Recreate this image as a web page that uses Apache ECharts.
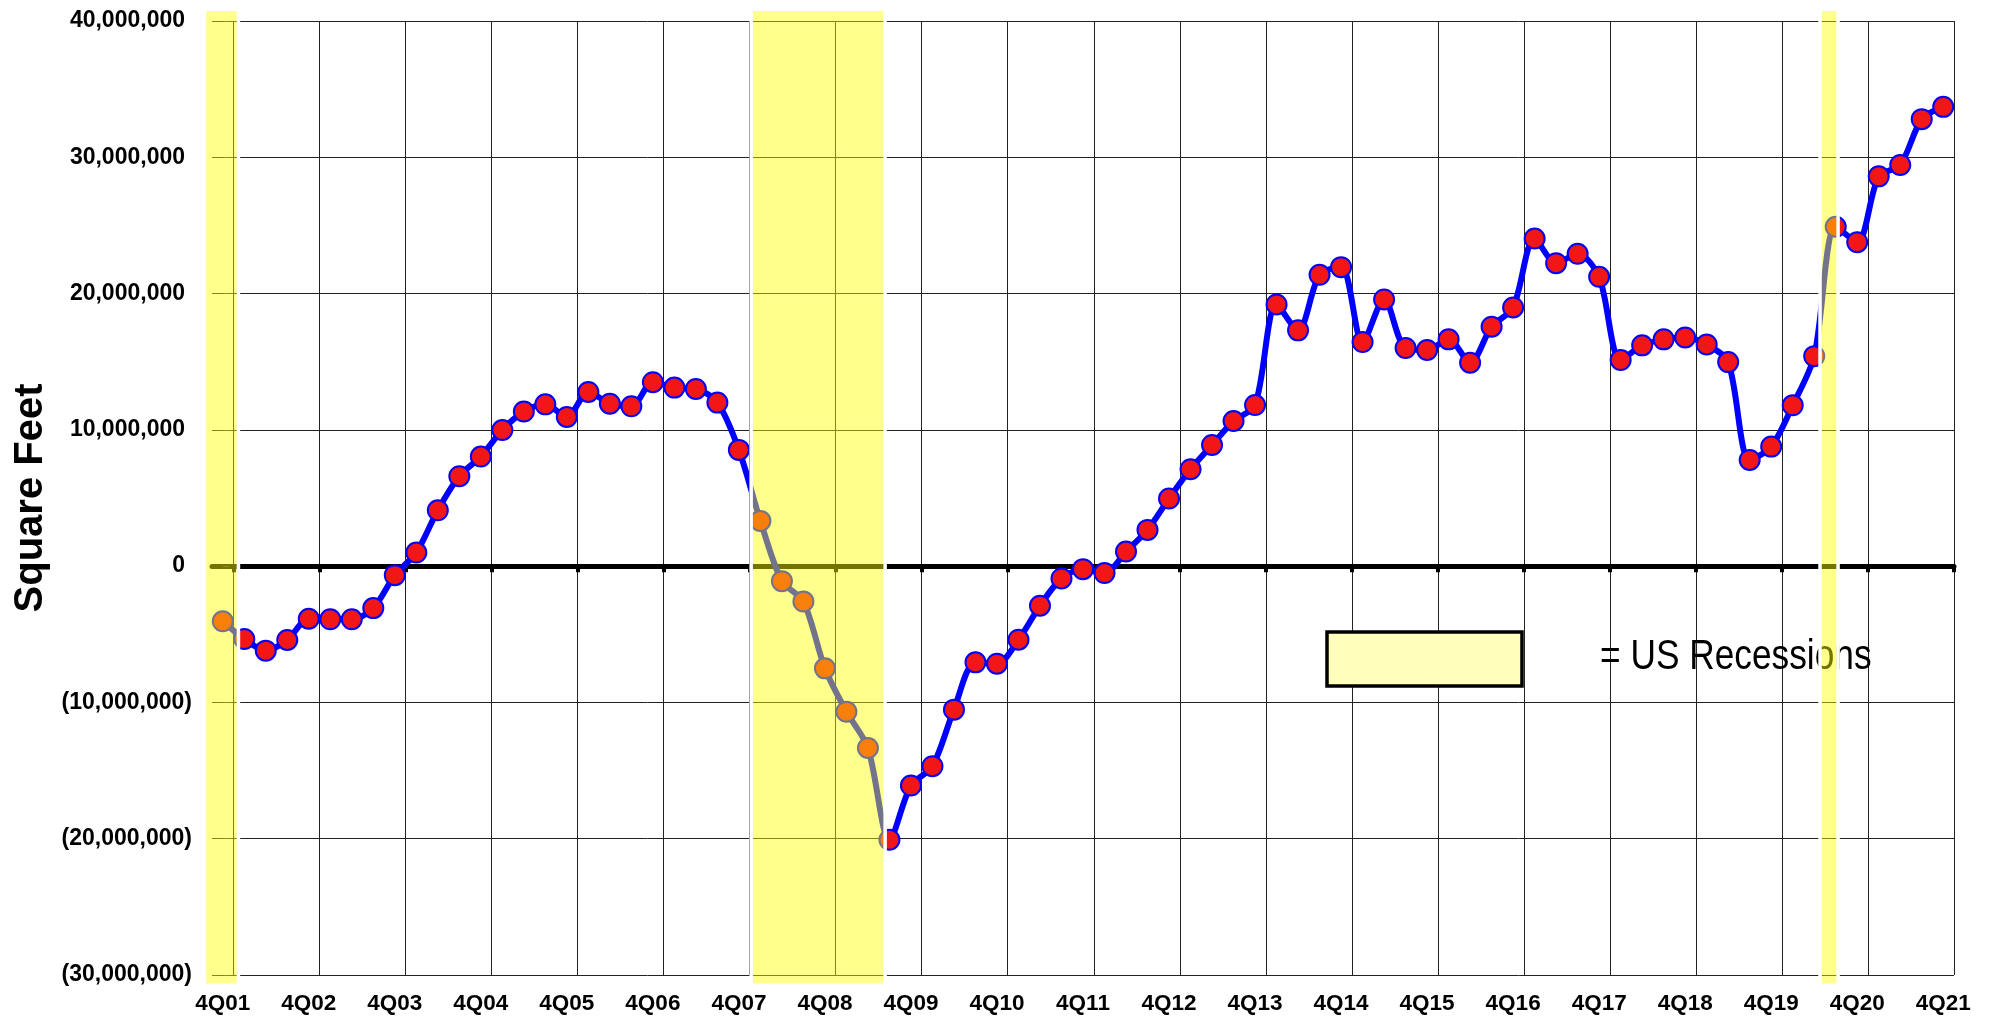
<!DOCTYPE html>
<html>
<head>
<meta charset="utf-8">
<title>Net Absorption - Square Feet</title>
<script src="https://cdn.jsdelivr.net/npm/echarts@6/dist/echarts.min.js"></script>
<style>
  html, body { margin: 0; padding: 0; background: #fff; }
  #chart { width: 1991px; height: 1016px; }
</style>
</head>
<body>
<div id="chart"></div>
<script>
// quarters 4Q01 .. 4Q21
var quarters = [];
for (var yr = 1; yr <= 21; yr++) {
    var yy = (yr < 10 ? '0' : '') + yr;
    if (yr === 1) { quarters.push('4Q01'); continue; }
    quarters.push('1Q' + yy, '2Q' + yy, '3Q' + yy, '4Q' + yy);
}

// quarterly net absorption, square feet
var netAbsorption = [
    -4050000, -5350000, -6200000, -5420000, -3860000, -3900000, -3900000, -3080000,
    -660000, 1000000, 4100000, 6600000, 8040000, 9990000, 11340000, 11870000,
    10950000, 12780000, 11920000, 11730000, 13500000, 13100000, 13000000, 12000000,
    8530000, 3320000, -1100000, -2600000, -7500000, -10680000, -13340000, -20080000,
    -16100000, -14680000, -10530000, -7060000, -7160000, -5400000, -2900000, -900000,
    -220000, -510000, 1070000, 2660000, 4960000, 7110000, 8890000, 10650000,
    11820000, 19200000, 17300000, 21380000, 21940000, 16440000, 19570000, 16000000,
    15860000, 16640000, 14930000, 17570000, 18980000, 24040000, 22230000, 22920000,
    21230000, 15120000, 16200000, 16640000, 16780000, 16270000, 14970000, 7790000,
    8770000, 11800000, 15410000, 24900000, 23770000, 28600000, 29440000, 32800000,
    33700000
];

// US recessions, as spans on the quarter index (0 = 4Q01)
var recessionStart = [-0.85, 24.57, 74.27];
var recessionEnd = [0.73, 30.8, 75.11];

var yTicks = [-30000000, -20000000, -10000000, 0, 10000000, 20000000, 30000000, 40000000];

var FONT = '"Liberation Sans", Arial, sans-serif';

function fmtY(v) {
    var s = Math.abs(v).toLocaleString('en-US');
    return v < 0 ? '{n|(' + s + ')}' : '{p|' + s + '}';
}
function everyYear(idx) { return idx % 4 === 0; }
function yearBoundary(idx) { return idx % 4 === 1; }

var chart = echarts.init(document.getElementById('chart'));

var option = {
    animation: false,
    backgroundColor: '#fff',
    grid: { left: 212, right: 37, top: 21, bottom: 41 },
    xAxis: [
        {
            type: 'category',
            data: quarters,
            position: 'bottom',
            boundaryGap: true,
            axisLine: { show: false, onZero: false },
            axisTick: { show: false },
            axisLabel: {
                interval: everyYear,
                margin: 17,
                fontSize: 22.5,
                fontWeight: 'bold',
                fontFamily: FONT,
                color: '#000'
            },
            splitLine: {
                show: true,
                interval: yearBoundary,
                lineStyle: { color: '#222', width: 1 }
            }
        },
        {
            // heavy zero line with its tick marks
            type: 'category',
            data: quarters,
            position: 'bottom',
            boundaryGap: true,
            axisLine: { show: true, onZero: true, lineStyle: { color: '#000', width: 5 } },
            axisTick: { show: true, interval: yearBoundary, length: 6, lineStyle: { color: '#000', width: 4 } },
            axisLabel: { show: false },
            splitLine: { show: false }
        },
        {
            // hidden linear scale on the quarter index, for the recession bands
            type: 'value',
            position: 'top',
            min: -0.5,
            max: quarters.length - 0.5,
            show: false
        }
    ],
    yAxis: [
        {
            type: 'value',
            min: yTicks[0],
            max: yTicks[yTicks.length - 1],
            interval: 10000000,
            name: 'Square Feet',
            nameLocation: 'middle',
            nameGap: 157,
            nameTextStyle: { fontSize: 40, fontWeight: 'bold', fontFamily: FONT, color: '#000' },
            axisLine: { show: false, onZero: false },
            axisTick: { show: false },
            axisLabel: {
                formatter: fmtY,
                margin: 20,
                fontSize: 23,
                fontWeight: 'bold',
                fontFamily: FONT,
                color: '#000',
                rich: {
                    p: { fontSize: 23, fontWeight: 'bold', fontFamily: FONT, color: '#000', padding: [0, 7, 0, 0] },
                    n: { fontSize: 23, fontWeight: 'bold', fontFamily: FONT, color: '#000' }
                }
            },
            splitLine: { show: true, lineStyle: { color: '#222', width: 1 } }
        },
        {
            type: 'value',
            position: 'right',
            min: yTicks[0],
            max: yTicks[yTicks.length - 1],
            interval: 10000000,
            axisLine: { show: false },
            axisTick: { show: true, length: 7, lineStyle: { color: '#333' } },
            axisLabel: { show: false },
            splitLine: { show: false }
        }
    ],
    graphic: {
        elements: [
            {
                type: 'rect',
                z: 10,
                shape: { x: 1327, y: 632, width: 195, height: 54 },
                style: { fill: '#FFFFBB', stroke: '#000', lineWidth: 3.5 }
            },
            {
                type: 'text',
                z: 10,
                x: 1600,
                y: 657,
                scaleX: 0.84,
                style: {
                    text: '= US Recessions',
                    fontSize: 42,
                    fontFamily: FONT,
                    fill: '#000',
                    verticalAlign: 'middle'
                }
            }
        ]
    },
    series: [
        {
            name: 'Net Absorption',
            type: 'line',
            xAxisIndex: 0,
            yAxisIndex: 0,
            data: netAbsorption,
            smooth: 0.3,
            showAllSymbol: true,
            symbol: 'circle',
            symbolSize: 20,
            lineStyle: { color: '#0000FF', width: 6 },
            itemStyle: { color: '#F21616', borderColor: '#0000FF', borderWidth: 2 },
            z: 3
        },
        {
            name: 'US Recessions',
            type: 'custom',
            xAxisIndex: 2,
            yAxisIndex: 0,
            clip: false,
            z: 20,
            silent: true,
            data: recessionStart.map(function (s, i) { return [s, recessionEnd[i]]; }),
            renderItem: function (params, api) {
                var p0 = api.coord([api.value(0), 40860000]);
                var p1 = api.coord([api.value(1), -30760000]);
                return {
                    type: 'rect',
                    shape: { x: p0[0], y: p0[1], width: p1[0] - p0[0], height: p1[1] - p0[1] },
                    style: { fill: 'rgba(255,255,0,0.45)', stroke: '#fff', lineWidth: 3.5 }
                };
            }
        }
    ]
};

chart.setOption(option);
</script>
</body>
</html>
